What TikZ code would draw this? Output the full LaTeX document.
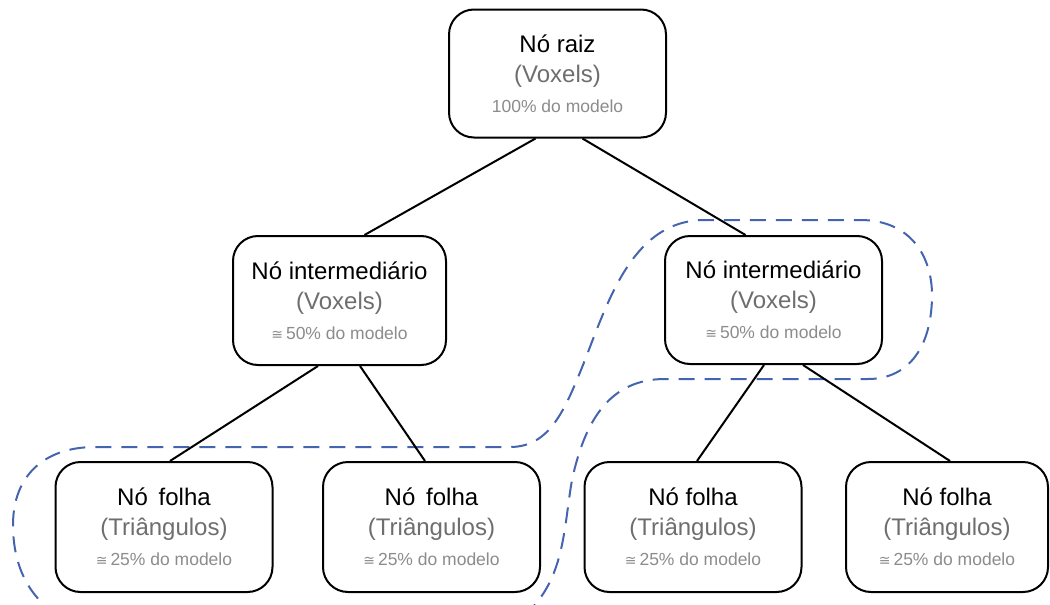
\documentclass[tikz,border=0pt]{standalone}
\usepackage{fontspec}
\setmainfont{Liberation Sans}
\newfontfamily\simbolo{DejaVu Sans}
\definecolor{cinzaTexto}{RGB}{110,110,110}
\definecolor{cinzaClaro}{RGB}{140,140,140}
\definecolor{azulGrupo}{RGB}{68,100,175}
\newcommand{\parcela}[1]{{\fontsize{17.5}{30}\selectfont\color{cinzaClaro}#1 do modelo}}
\newcommand{\aprox}{{\simbolo\fontsize{14}{30}\selectfont ≅}\,}
\newcommand{\tipoNo}[1]{{\color{cinzaTexto}(#1)}}
\begin{document}
\begin{tikzpicture}[x=1pt,y=-1pt,
    no/.style={draw,line width=2pt,rounded corners=25pt,fill=white,
      minimum width=217pt,minimum height=128pt,align=center,
      font=\fontsize{24}{30}\selectfont},
    aresta/.style={line width=2pt},
    grupo/.style={draw=azulGrupo,line width=2pt,dash pattern=on 16pt off 10pt}]
      \useasboundingbox (0,0) rectangle (1050,605);
      % grupos
      \begin{scope}
        \clip (0,0) rectangle (1050,605);
        \draw[grupo] (58,615) .. controls (25,595) and (13,560) .. (13,525)
          .. controls (13,475) and (45,447) .. (95,447) -- (510,447)
          .. controls (550,447) and (565,410) .. (585,360)
          .. controls (610,295) and (635,220) .. (705,220) -- (860,220)
          .. controls (912,220) and (932,258) .. (932,295)
          .. controls (932,345) and (910,379) .. (868,379) -- (665,379)
          .. controls (610,379) and (585,420) .. (572,480)
          .. controls (564,525) and (565,575) .. (530,610);
      \end{scope}
      % nos
      \node[no] (raiz) at (557.5,73.5)
        {Nó raiz\\\tipoNo{Voxels}\\\parcela{100\%}};
      \node[no,minimum width=213pt,minimum height=129pt] (intEsq) at (339.5,300.5)
        {Nó intermediário\\\tipoNo{Voxels}\\\parcela{\aprox 50\%}};
      \node[no] (intDir) at (773.5,300)
        {Nó intermediário\\\tipoNo{Voxels}\\\parcela{\aprox 50\%}};
      \node[no,minimum height=130pt] (folha1) at (164,527)
        {Nó\hspace{0.45em}folha\\\tipoNo{Triângulos}\\\parcela{\aprox 25\%}};
      \node[no,minimum height=130pt] (folha2) at (431.5,527)
        {Nó\hspace{0.45em}folha\\\tipoNo{Triângulos}\\\parcela{\aprox 25\%}};
      \node[no,minimum height=130pt] (folha3) at (693,527)
        {Nó folha\\\tipoNo{Triângulos}\\\parcela{\aprox 25\%}};
      \node[no,minimum width=202pt,minimum height=130pt] (folha4) at (947,527)
        {Nó folha\\\tipoNo{Triângulos}\\\parcela{\aprox 25\%}};
      % arestas
      \begin{scope}[aresta]
        \draw ([xshift=-22pt]raiz.south) to ([xshift=25pt]intEsq.north);
        \draw ([xshift=25pt]raiz.south) to ([xshift=-28pt]intDir.north);
        \draw ([xshift=-21.5pt]intEsq.south) to ([xshift=6pt]folha1.north);
        \draw ([xshift=20.5pt]intEsq.south) to ([xshift=-6.5pt]folha2.north);
        \draw ([xshift=-9.5pt]intDir.south) to ([xshift=4pt]folha3.north);
        \draw ([xshift=29.5pt]intDir.south) to ([xshift=3pt]folha4.north);
      \end{scope}
    \end{tikzpicture}
\end{document}
